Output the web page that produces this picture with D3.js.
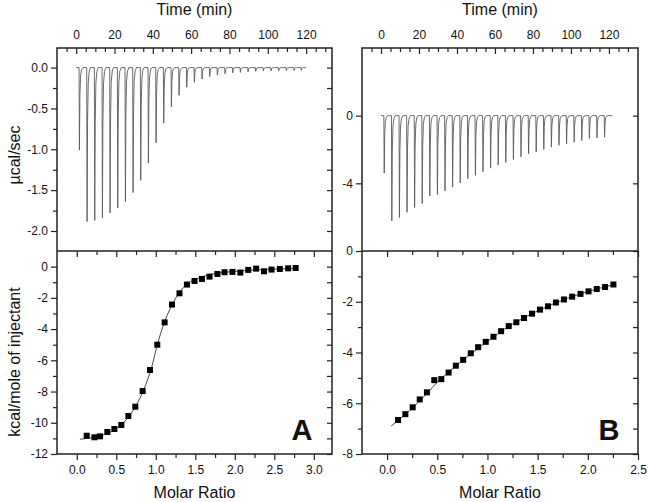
<!DOCTYPE html>
<html><head><meta charset="utf-8">
<script src="https://cdn.jsdelivr.net/npm/d3@7/dist/d3.min.js"></script>
<style>
body{margin:0;background:#fff;}
text{font-family:"Liberation Sans",Arial,sans-serif;fill:#111;}
</style></head>
<body><svg id="c" width="649" height="502"></svg>
<script>
// ---------- DATA ----------
const injTimeA = [1.5,5.5,9.5,13.5,17.5,21.5,25.5,29.5,33.5,37.5,41.5,45.5,49.5,53.5,57.5,61.5,65.5,69.5,73.5,77.5,81.5,85.5,89.5,93.5,97.5,101.5,105.5,109.5,113.5,117.3];
const peakA = [-1.01,-1.885,-1.87,-1.84,-1.78,-1.72,-1.64,-1.53,-1.38,-1.17,-0.92,-0.68,-0.48,-0.34,-0.24,-0.18,-0.14,-0.11,-0.09,-0.075,-0.065,-0.058,-0.052,-0.046,-0.042,-0.04,-0.038,-0.036,-0.035,-0.034];
const traceRangeA = [0, 120];

const injTimeB = [1.5,5.5,9.5,13.5,17.5,21.5,25.5,29.5,33.5,37.5,41.5,45.5,49.5,53.5,57.5,61.5,65.5,69.5,73.5,77.5,81.5,85.5,89.5,93.5,97.5,101.5,105.5,109.5,113.5,117.5];
const peakB = [-3.39,-6.22,-6.02,-5.71,-5.43,-5.2,-4.75,-4.67,-4.45,-4.22,-3.98,-3.73,-3.53,-3.31,-3.1,-2.92,-2.76,-2.59,-2.43,-2.25,-2.14,-2.0,-1.86,-1.75,-1.67,-1.57,-1.47,-1.35,-1.31,-1.27];
const traceRangeB = [0, 121.8];

const ratioA = [0.126,0.223,0.295,0.387,0.476,0.564,0.653,0.741,0.834,0.927,1.019,1.112,1.205,1.30,1.394,1.49,1.584,1.68,1.78,1.87,1.97,2.07,2.17,2.27,2.37,2.465,2.57,2.675,2.77];
const heatA = [-10.83,-10.93,-10.87,-10.59,-10.4,-10.14,-9.57,-8.97,-7.97,-6.62,-5.0,-3.57,-2.43,-1.71,-1.15,-0.92,-0.79,-0.64,-0.47,-0.36,-0.34,-0.38,-0.21,-0.13,-0.30,-0.19,-0.15,-0.11,-0.09];
const fitAx = [0.04,0.2,0.4,0.55,0.65,0.75,0.85,0.95,1.02,1.1,1.2,1.3,1.4,1.5,1.7,2.0,2.4,2.77];
const fitAy = [-11.05,-10.95,-10.65,-10.2,-9.65,-8.9,-7.85,-6.4,-5.0,-3.7,-2.5,-1.65,-1.1,-0.82,-0.5,-0.3,-0.18,-0.12];

const ratioB = [0.109,0.182,0.255,0.325,0.397,0.47,0.54,0.613,0.685,0.758,0.834,0.907,0.983,1.06,1.136,1.212,1.288,1.364,1.444,1.523,1.603,1.682,1.762,1.844,1.927,2.007,2.089,2.172,2.255];
const heatB = [-6.66,-6.43,-6.16,-5.85,-5.57,-5.09,-5.05,-4.79,-4.52,-4.29,-4.03,-3.79,-3.58,-3.38,-3.16,-2.96,-2.81,-2.64,-2.47,-2.31,-2.18,-2.03,-1.91,-1.80,-1.69,-1.59,-1.50,-1.42,-1.32];
const fitBx = [0.04,0.2,0.4,0.5,0.6,0.8,1.0,1.2,1.4,1.6,1.8,2.0,2.255];
const fitBy = [-6.9,-6.38,-5.6,-5.17,-4.82,-4.15,-3.56,-3.0,-2.56,-2.18,-1.86,-1.6,-1.33];

const timeMajor = [0,20,40,60,80,100,120];
const timeMinorA = [-5,5,10,15,25,30,35,45,50,55,65,70,75,85,90,95,105,110,115,125,130];
const timeMinorB = [-5,5,10,15,25,30,35,45,50,55,65,70,75,85,90,95,105,110,115,125,130];
const powMajorA = [0,-0.5,-1.0,-1.5,-2.0];
const powMinorA = [-0.25,-0.75,-1.25,-1.75];
const heatMajorA = [0,-2,-4,-6,-8,-10,-12];
const heatMinorA = [-1,-3,-5,-7,-9,-11];
const ratioMajorA = [0.0,0.5,1.0,1.5,2.0,2.5,3.0];
const ratioMinorA = [0.25,0.75,1.25,1.75,2.25,2.75];
const powMajorB = [0,-4];
const heatMajorB = [0,-2,-4,-6,-8];
const heatMinorB = [-1,-3,-5,-7];
const ratioMajorB = [0.0,0.5,1.0,1.5,2.0,2.5];
const ratioMinorB = [0.25,0.75,1.25,1.75,2.25];

// ---------- LAYOUT ----------
const svg = d3.select("#c");
const yTop = 48, yMid = 251, yBot = 454;
const fmt = f => (v => d3.format(f)(v).replace("\u2212","-"));

function panel(o){
  const g = svg.append("g");
  const xT = d3.scaleLinear().domain(o.tDom).range([o.x0,o.x1]);
  const yP = d3.scaleLinear().domain(o.pDom).range([yMid,yTop]);
  const xR = d3.scaleLinear().domain(o.rDom).range([o.x0,o.x1]);
  const yH = d3.scaleLinear().domain(o.hDom).range([yBot,yMid]);

  // trace
  const pts = [[o.trace[0],0]];
  o.inj.forEach((t,i)=>{
    const p=o.peak[i];
    pts.push([t,0],[t+0.2,p],[t+0.45,0.35*p],[t+0.8,0.1*p],[t+1.3,0.025*p],[t+2.0,0]);
  });
  pts.push([o.trace[1],0]);
  g.append("path").attr("d", d3.line().x(d=>xT(d[0])).y(d=>yP(d[1]))(pts))
    .attr("fill","none").attr("stroke","#5a5a5a").attr("stroke-width",0.9);

  // fit line
  g.append("path").attr("d", d3.line().x(d=>xR(d[0])).y(d=>yH(d[1])).curve(d3.curveMonotoneX)(o.fx.map((x,i)=>[x,o.fy[i]])))
    .attr("fill","none").attr("stroke","#333").attr("stroke-width",0.9);
  // squares
  const s=6;
  g.selectAll("rect.pt").data(o.rx).join("rect").attr("class","pt")
    .attr("x",(d)=>xR(d)-s/2).attr("y",(d,i)=>yH(o.hy[i])-s/2).attr("width",s).attr("height",s).attr("fill","#000");

  // axes
  const axStyle = sel => { sel.select(".domain").remove(); sel.selectAll("line").attr("stroke","#222").attr("stroke-width",1.2); sel.selectAll("text").attr("font-size",12).attr("font-family","Liberation Sans, Arial, sans-serif").attr("fill","#111"); };
  g.append("g").attr("transform",`translate(0,${yTop})`).call(d3.axisTop(xT).tickValues(timeMajor).tickSizeInner(-6).tickSizeOuter(0).tickPadding(9.5).tickFormat(d3.format("d"))).call(axStyle);
  g.append("g").attr("transform",`translate(0,${yTop})`).call(d3.axisTop(xT).tickValues(o.tMinor).tickSizeInner(-4).tickSizeOuter(0).tickFormat("")).call(axStyle);
  g.append("g").attr("transform",`translate(${o.x0},0)`).call(d3.axisLeft(yP).tickValues(o.pMajor).tickSize(6).tickPadding(3).tickFormat(fmt(o.pFmt))).call(axStyle);
  if(o.pMinor.length) g.append("g").attr("transform",`translate(${o.x0},0)`).call(d3.axisLeft(yP).tickValues(o.pMinor).tickSize(4).tickFormat("")).call(axStyle);
  g.append("g").attr("transform",`translate(${o.x1},0)`).call(d3.axisLeft(yP).tickValues(o.pMajor.concat(o.pMinor)).tickSize(5).tickFormat("")).call(axStyle);
  g.append("g").attr("transform",`translate(${o.x0},0)`).call(d3.axisLeft(yH).tickValues(o.hMajor).tickSize(6).tickPadding(3).tickFormat(fmt("d"))).call(axStyle);
  g.append("g").attr("transform",`translate(${o.x0},0)`).call(d3.axisLeft(yH).tickValues(o.hMinor).tickSize(4).tickFormat("")).call(axStyle);
  g.append("g").attr("transform",`translate(${o.x1},0)`).call(d3.axisLeft(yH).tickValues(o.hMajor.concat(o.hMinor)).tickSize(5).tickFormat("")).call(axStyle);
  g.append("g").attr("transform",`translate(0,${yBot})`).call(d3.axisBottom(xR).tickValues(o.rMajor).tickSize(6).tickPadding(5).tickFormat(fmt(".1f"))).call(axStyle);
  g.append("g").attr("transform",`translate(0,${yBot})`).call(d3.axisBottom(xR).tickValues(o.rMinor).tickSize(4).tickFormat("")).call(axStyle);
  g.append("g").attr("transform",`translate(0,${yMid})`).call(d3.axisBottom(xR).tickValues(o.rMajor).tickSize(6).tickFormat("")).call(axStyle);
  g.append("g").attr("transform",`translate(0,${yMid})`).call(d3.axisBottom(xR).tickValues(o.rMinor).tickSize(4).tickFormat("")).call(axStyle);

  // frames
  g.append("rect").attr("x",o.x0).attr("y",yTop).attr("width",o.x1-o.x0).attr("height",yBot-yTop).attr("fill","none").attr("stroke","#222").attr("stroke-width",1.5);
  g.append("line").attr("x1",o.x0).attr("x2",o.x1).attr("y1",yMid).attr("y2",yMid).attr("stroke","#222").attr("stroke-width",1.5);

  // titles
  g.append("text").attr("x",(o.x0+o.x1)/2).attr("y",15).attr("text-anchor","middle").attr("font-size",16).text("Time (min)");
  g.append("text").attr("x",(o.x0+o.x1)/2).attr("y",498).attr("text-anchor","middle").attr("font-size",16).text("Molar Ratio");
  g.append("text").attr("x",o.letterX).attr("y",440).attr("text-anchor","middle").attr("font-size",29).attr("font-weight","bold").text(o.letter);
  return g;
}

panel({x0:57,x1:332,tDom:[-10,133.5],pDom:[-2.245,0.24],rDom:[-0.25,3.23],hDom:[-12,1],
  inj:injTimeA,peak:peakA,trace:traceRangeA,rx:ratioA,hy:heatA,fx:fitAx,fy:fitAy,
  tMinor:timeMinorA,pMajor:powMajorA,pMinor:powMinorA,pFmt:".1f",hMajor:heatMajorA,hMinor:heatMinorA,
  rMajor:ratioMajorA,rMinor:ratioMinorA,letter:"A",letterX:302});
panel({x0:362,x1:638,tDom:[-10,135.3],pDom:[-8,4],rDom:[-0.25,2.5],hDom:[-8,0],
  inj:injTimeB,peak:peakB,trace:traceRangeB,rx:ratioB,hy:heatB,fx:fitBx,fy:fitBy,
  tMinor:timeMinorB,pMajor:powMajorB,pMinor:[],pFmt:"d",hMajor:heatMajorB,hMinor:heatMinorB,
  rMajor:ratioMajorB,rMinor:ratioMinorB,letter:"B",letterX:609});

svg.append("text").attr("transform","translate(20,155) rotate(-90)").attr("text-anchor","middle").attr("font-size",16).text("µcal/sec");
svg.append("text").attr("transform","translate(20,362) rotate(-90)").attr("text-anchor","middle").attr("font-size",16).text("kcal/mole of injectant");
</script></body></html>
